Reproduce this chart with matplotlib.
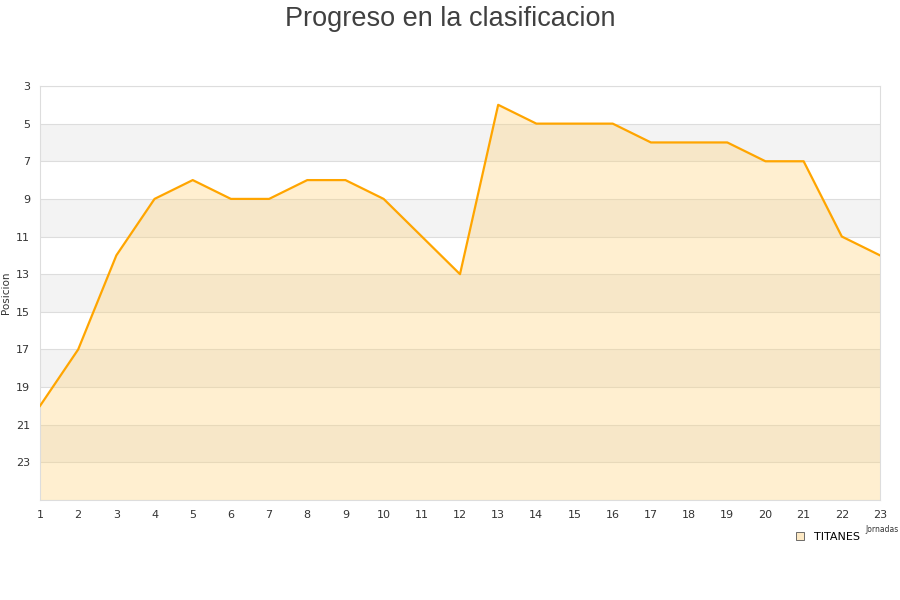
import matplotlib
matplotlib.use("Agg")
import matplotlib.pyplot as plt
from matplotlib.lines import Line2D

# jornada vs posicion
jornadas = list(range(1, 24))
posiciones = [20, 17, 12, 9, 8, 9, 9, 8, 8, 9, 11, 13, 4, 5, 5, 5, 6, 6, 6, 7, 7, 11, 12]
equipo = "TITANES"

Y_MIN, Y_MAX = 3, 25
LINE_COLOR = "#ffa500"
FILL_COLOR = "#ffd27a"

fig = plt.figure(figsize=(9, 6), dpi=100)
ax = fig.add_axes([40 / 900, 100 / 600, 840 / 900, 414 / 600])

# alternating background bands
for i, y0 in enumerate(range(Y_MIN, Y_MAX, 2)):
    if i % 2 == 1:
        ax.axhspan(y0, y0 + 2, color="#f3f3f3", zorder=0, lw=0)
for y in range(Y_MIN, Y_MAX + 1, 2):
    ax.axhline(y, color="#dddddd", lw=0.8, zorder=1)

ax.fill_between(jornadas, posiciones, Y_MAX, color=FILL_COLOR, alpha=0.35, lw=0, zorder=2)
ax.plot(jornadas, posiciones, color=LINE_COLOR, lw=1.6, zorder=3)

ax.set_xlim(1, 23)
ax.set_ylim(Y_MAX, Y_MIN)
ax.set_xticks(jornadas)
ax.set_yticks(range(Y_MIN, Y_MAX, 2))
ax.tick_params(length=0, labelsize=8, colors="#333333", pad=7)
for s in ax.spines.values():
    s.set_color("#dddddd")

ax.set_ylabel("Posicion", fontsize=7.5, color="#333333", labelpad=4)
ax.set_xlabel("Jornadas", fontsize=5.5, color="#333333", ha="right")
ax.xaxis.set_label_coords(1.022, -0.06)

fig.suptitle("Progreso en la clasificacion", fontsize=19.5, color="#404040",
             family="Liberation Sans", y=0.99)

handle = Line2D([], [], marker="s", ls="", markersize=6,
                markerfacecolor="#fde9c4", markeredgecolor="#555555", markeredgewidth=0.6)
leg = fig.legend([handle], [equipo], loc="center", bbox_to_anchor=(0.919, 0.105),
                 frameon=False, fontsize=8, handletextpad=0.8, borderpad=0.3,
                 handlelength=1)

fig.savefig("out.png", dpi=100)
